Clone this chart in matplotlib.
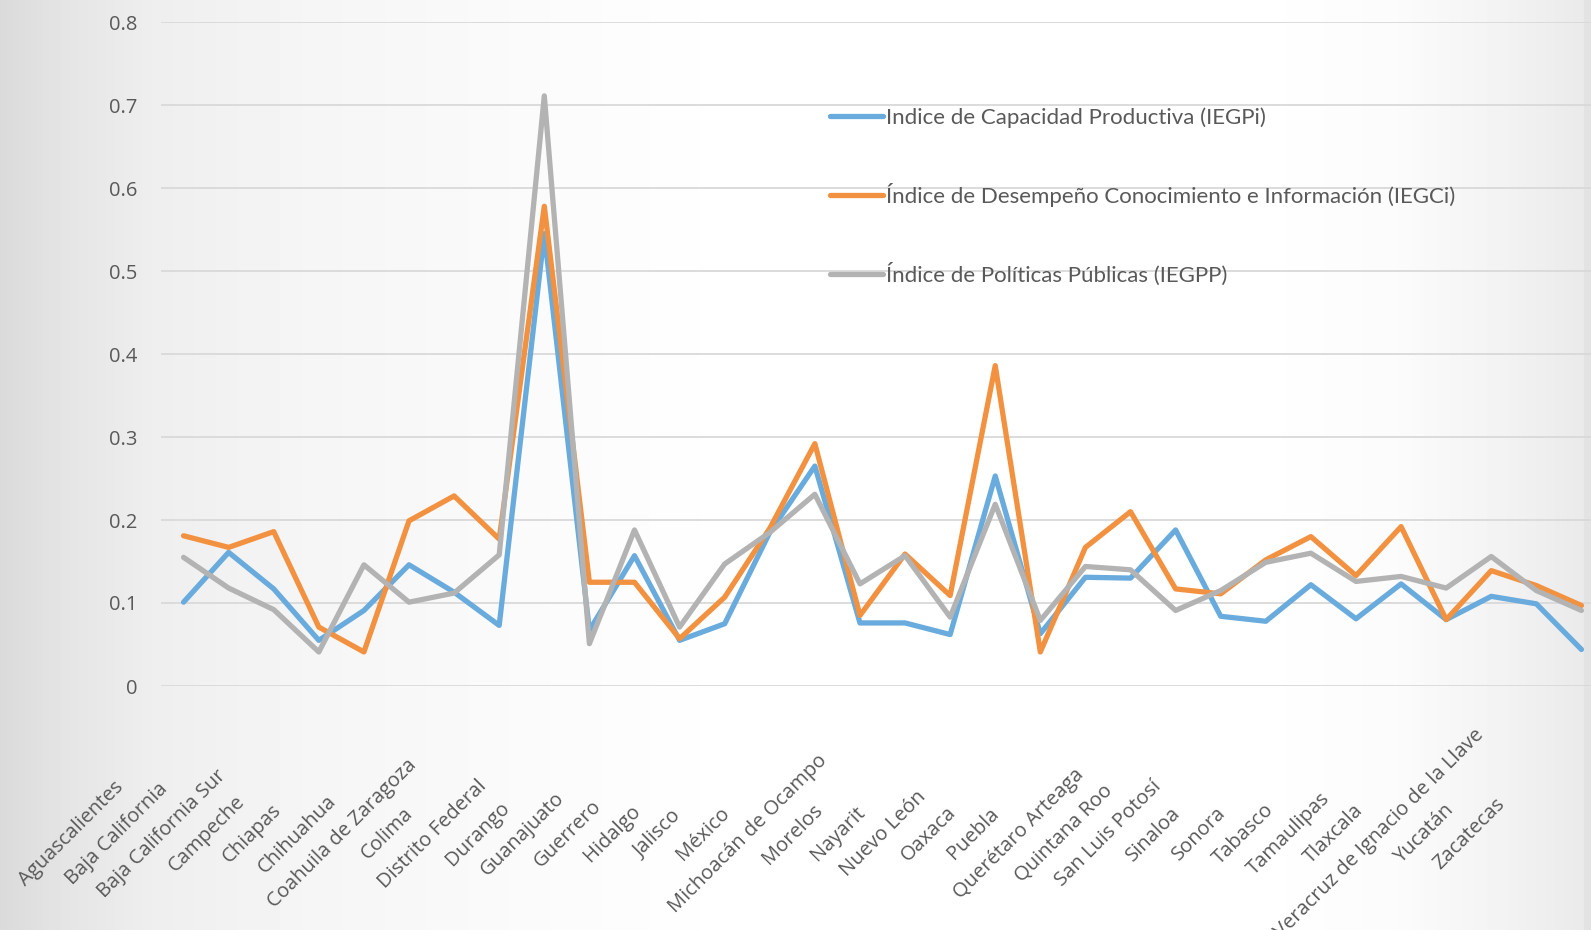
import numpy as np
import matplotlib.pyplot as plt
from matplotlib.lines import Line2D

plt.rcParams['font.family'] = ['Open Sans', 'DejaVu Sans']

estados = ['Aguascalientes', 'Baja California', 'Baja California Sur', 'Campeche',
           'Chiapas', 'Chihuahua', 'Coahuila de Zaragoza', 'Colima',
           'Distrito Federal', 'Durango', 'Guanajuato', 'Guerrero', 'Hidalgo',
           'Jalisco', 'México', 'Michoacán de Ocampo', 'Morelos', 'Nayarit',
           'Nuevo León', 'Oaxaca', 'Puebla', 'Querétaro Arteaga', 'Quintana Roo',
           'San Luis Potosí', 'Sinaloa', 'Sonora', 'Tabasco', 'Tamaulipas',
           'Tlaxcala', 'Veracruz de Ignacio de la Llave', 'Yucatán', 'Zacatecas']

iegpi = [0.101, 0.161, 0.117, 0.055, 0.091, 0.146, 0.113, 0.073, 0.545, 0.067,
         0.157, 0.055, 0.075, 0.185, 0.265, 0.076, 0.076, 0.062, 0.253, 0.063,
         0.131, 0.130, 0.188, 0.084, 0.078, 0.122, 0.081, 0.123, 0.080, 0.108,
         0.099, 0.044]
iegci = [0.181, 0.167, 0.186, 0.071, 0.041, 0.199, 0.229, 0.177, 0.578, 0.125,
         0.125, 0.057, 0.107, 0.190, 0.292, 0.085, 0.159, 0.109, 0.386, 0.041,
         0.167, 0.210, 0.117, 0.111, 0.152, 0.180, 0.133, 0.192, 0.080, 0.139,
         0.121, 0.097]
iegpp = [0.155, 0.118, 0.092, 0.041, 0.146, 0.101, 0.112, 0.158, 0.711, 0.051,
         0.188, 0.071, 0.147, 0.185, 0.231, 0.123, 0.157, 0.083, 0.219, 0.079,
         0.144, 0.140, 0.091, 0.115, 0.149, 0.160, 0.126, 0.132, 0.118, 0.156,
         0.115, 0.091]

nombres = ['Indice de Capacidad Productiva (IEGPi)',
           'Índice de Desempeño Conocimiento e Información (IEGCi)',
           'Índice de Políticas Públicas (IEGPP)']
colores = ['#69ABDD', '#F2913F', '#B3B3B3']
yticks = [0, 0.1, 0.2, 0.3, 0.4, 0.5, 0.6, 0.7, 0.8]
ytick_labels = ['0', '0.1', '0.2', '0.3', '0.4', '0.5', '0.6', '0.7', '0.8']

W, H = 1591, 930
fig = plt.figure(figsize=(W / 100, H / 100), dpi=100)

# fondo con degradado gris a los lados
bg = fig.add_axes([0, 0, 1, 1], zorder=-10)
xs = np.linspace(0, 1, W)
prof = np.interp(xs * W, [0, 60, 150, 300, 550, 750, 1250, 1400, 1500, 1584, 1585, 1591],
                 [218, 228, 238, 245, 251, 255, 255, 251, 243, 234, 228, 228])
bg.imshow(np.tile(prof, (10, 1)), cmap='gray', vmin=0, vmax=255, aspect='auto',
          extent=[0, 1, 0, 1])
bg.axis('off')

left = 161 / W
right = 1604 / W
bottom = (H - 686) / H
top = (H - 22) / H
ax = fig.add_axes([left, bottom, right - left, top - bottom])
ax.patch.set_alpha(0)

x = np.arange(len(estados))
for serie, c in zip([iegpi, iegci, iegpp], colores):
    ax.plot(x, serie, color=c, lw=3.8, solid_joinstyle='round',
            solid_capstyle='round', clip_on=False)

ax.set_xlim(-0.5, len(estados) - 0.5)
ax.set_ylim(0, 0.8)
ax.set_yticks(yticks)
ax.set_yticklabels(ytick_labels)
ax.yaxis.grid(True, color='#D9D9D9', lw=1.3)
ax.set_axisbelow(True)
ax.tick_params(axis='y', length=0, pad=17, labelsize=14.5, labelcolor='#595959')
ax.set_xticks([])
for s in ax.spines.values():
    s.set_visible(False)

# etiquetas de estados giradas
for i, e in enumerate(estados):
    ax.annotate(e, xy=(i, 0), xycoords=('data', 'axes fraction'),
                xytext=(-112 * 0.72, -148 * 0.72), textcoords='offset points',
                rotation=45, ha='center', va='center', rotation_mode='anchor',
                fontsize=14.5, color='#595959')

handles = [Line2D([], [], color=c, lw=3.8, solid_capstyle='round') for c in colores]
leg = ax.legend(handles, nombres, loc='upper left',
                bbox_to_anchor=(830 / W, (H - 107) / H), bbox_transform=fig.transFigure,
                frameon=False, borderpad=0, borderaxespad=0, handlelength=2.4,
                handletextpad=0.12, labelspacing=2.5,
                prop={'family': ['Lato', 'DejaVu Sans'], 'size': 16})
for t in leg.get_texts():
    t.set_color('#595959')

fig.savefig('out.png', dpi=100)
